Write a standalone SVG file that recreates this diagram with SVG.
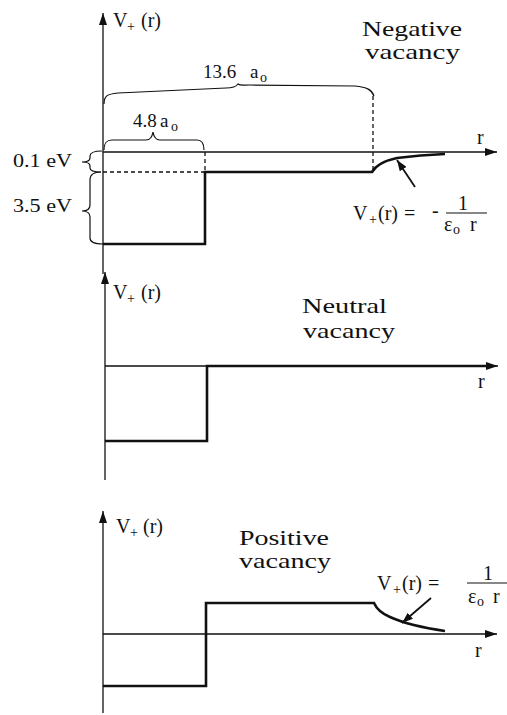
<svg xmlns="http://www.w3.org/2000/svg" width="507" height="715" viewBox="0 0 507 715">
<style>
text{font-family:"Liberation Serif","Times New Roman",serif;fill:#111}
.lbl{font-size:20px}
.sub{font-size:14px}
.ttl{font-size:21px}
.val{font-size:19px}
.ax{stroke:#111;stroke-width:1.3;fill:none}
.pot{stroke:#111;stroke-width:2.6;fill:none;stroke-linejoin:miter}
.dash{stroke:#111;stroke-width:1.3;fill:none;stroke-dasharray:4 3}
.br{stroke:#111;stroke-width:1.2;fill:none}
.thin{stroke:#111;stroke-width:1.8;fill:none}
</style>
<defs>
<marker id="axh" viewBox="0 0 12 8" refX="12" refY="4" markerWidth="12" markerHeight="8" markerUnits="userSpaceOnUse" orient="auto"><path d="M0,0 L12,4 L0,8 Z" fill="#111"/></marker>
<marker id="anh" viewBox="0 0 11 8" refX="11" refY="4" markerWidth="11" markerHeight="8" markerUnits="userSpaceOnUse" orient="auto"><path d="M0,0 L11,4 L0,8 Z" fill="#111"/></marker>
</defs>

<g id="panel-negative">
  <g id="neg-axes">
    <line class="ax" x1="103" y1="274" x2="103" y2="13" marker-end="url(#axh)"/>
    <line class="ax" x1="103" y1="152" x2="497" y2="152" marker-end="url(#axh)"/>
  </g>
  <g id="neg-labels">
    <text class="lbl" x="113" y="27">V</text><text class="sub" x="127" y="31">+</text><text class="lbl" x="141" y="27">(r)</text>
    <text class="lbl" x="477" y="144">r</text>
    <text class="ttl" x="362" y="36" textLength="100" lengthAdjust="spacingAndGlyphs">Negative</text>
    <text class="ttl" x="365" y="59" textLength="95" lengthAdjust="spacingAndGlyphs">vacancy</text>
  </g>
  <g id="neg-potential">
    <path class="pot" d="M103,244 L205,244 L205,172 L372,172 Q378,162 397,158 Q420,155 445,154"/>
    <line class="dash" x1="103" y1="172" x2="205" y2="172"/>
    <line class="dash" x1="205" y1="152" x2="205" y2="172"/>
    <line class="dash" x1="373" y1="96" x2="373" y2="172"/>
  </g>
  <g id="neg-braces">
    <path class="br" d="M104,104 C104,96 107,94 118,93 L226,88 C233,88 236,87 238,84 C240,86 243,85 250,85 L355,86 C367,87 372,90 374,96"/>
    <text class="val" x="203" y="78">13.6</text><text class="val" x="250" y="78">a</text><text class="sub" x="260" y="82">o</text>
    <path class="br" d="M104,150 C104,143 106,140 112,140 L146,140 C150,140 152,138 153,132 C154,138 156,140 160,140 L197,140 C202,140 204,143 204,150"/>
    <text class="val" x="133" y="127">4.8</text><text class="val" x="160" y="127">a</text><text class="sub" x="171" y="131">o</text>
    <path class="br" d="M102,151 C95,151 90,152 90,156 L90,158 C90,161 87,162 82,162 C87,162 90,163 90,166 L90,168 C90,171 95,172 101,172"/>
    <text class="val" x="13" y="167" textLength="59" lengthAdjust="spacingAndGlyphs">0.1 eV</text>
    <path class="br" d="M101,172 C94,172 90,174 90,180 L90,205 C90,209 87,211 82,211 C87,211 90,213 90,217 L90,238 C90,242 95,244 103,244"/>
    <text class="val" x="13" y="212" textLength="59" lengthAdjust="spacingAndGlyphs">3.5 eV</text>
  </g>
  <g id="neg-formula">
    <line class="thin" x1="415" y1="187" x2="397" y2="160" marker-end="url(#anh)"/>
    <text class="lbl" x="353" y="220">V</text><text class="sub" x="369" y="224">+</text><text class="lbl" x="378" y="220">(r)</text><text class="lbl" x="404" y="220">=</text>
    <text class="lbl" x="432" y="217">-</text>
    <line class="br" x1="446" y1="213" x2="487" y2="213"/>
    <text class="lbl" x="458" y="210">1</text>
    <text class="lbl" x="444" y="231">ε</text><text class="sub" x="453" y="234">o</text><text class="lbl" x="470" y="231">r</text>
  </g>
</g>

<g id="panel-neutral">
  <g id="neu-axes">
    <line class="ax" x1="105" y1="480" x2="105" y2="272" marker-end="url(#axh)"/>
    <line class="ax" x1="105" y1="366" x2="498" y2="366" marker-end="url(#axh)"/>
  </g>
  <g id="neu-labels">
    <text class="lbl" x="113" y="299">V</text><text class="sub" x="127" y="303">+</text><text class="lbl" x="141" y="299">(r)</text>
    <text class="lbl" x="478" y="388">r</text>
    <text class="ttl" x="302" y="313" textLength="85" lengthAdjust="spacingAndGlyphs">Neutral</text>
    <text class="ttl" x="303" y="338" textLength="92" lengthAdjust="spacingAndGlyphs">vacancy</text>
  </g>
  <g id="neu-potential">
    <path class="pot" d="M105,441 L207,441 L207,366 L487,366"/>
  </g>
</g>

<g id="panel-positive">
  <g id="pos-axes">
    <line class="ax" x1="103" y1="713" x2="103" y2="511" marker-end="url(#axh)"/>
    <line class="ax" x1="103" y1="634" x2="497" y2="634" marker-end="url(#axh)"/>
  </g>
  <g id="pos-labels">
    <text class="lbl" x="116" y="533">V</text><text class="sub" x="130" y="537">+</text><text class="lbl" x="143" y="533">(r)</text>
    <text class="lbl" x="475" y="657">r</text>
    <text class="ttl" x="239" y="545" textLength="90" lengthAdjust="spacingAndGlyphs">Positive</text>
    <text class="ttl" x="239" y="568" textLength="92" lengthAdjust="spacingAndGlyphs">vacancy</text>
  </g>
  <g id="pos-potential">
    <path class="pot" d="M103,686 L206,686 L206,603 L374,603 Q378,612 390,617 Q410,626 445,631"/>
  </g>
  <g id="pos-formula">
    <line class="thin" x1="431" y1="598" x2="402" y2="623" marker-end="url(#anh)"/>
    <text class="lbl" x="377" y="590">V</text><text class="sub" x="393" y="594">+</text><text class="lbl" x="402" y="590">(r)</text><text class="lbl" x="428" y="590">=</text>
    <line class="br" x1="467" y1="583" x2="507" y2="583"/>
    <text class="lbl" x="483" y="580">1</text>
    <text class="lbl" x="468" y="603">ε</text><text class="sub" x="477" y="606">o</text><text class="lbl" x="493" y="603">r</text>
  </g>
</g>
</svg>
